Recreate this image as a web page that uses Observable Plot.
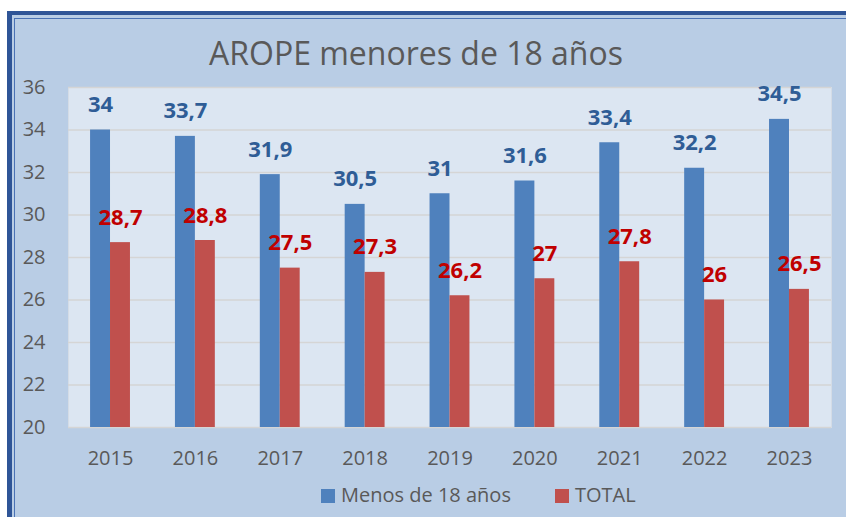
<!DOCTYPE html>
<html>
<head>
<meta charset="utf-8">
<script src="https://cdn.jsdelivr.net/npm/d3@7"></script>
<script src="https://cdn.jsdelivr.net/npm/@observablehq/plot@0.6"></script>
<style>
  html, body { margin: 0; padding: 0; background: #ffffff; }
  body { width: 846px; height: 517px; overflow: hidden; position: relative; font-family: "Open Sans", sans-serif; }
  #frame {
    position: absolute; left: 7px; top: 11px; width: 900px; height: 504px;
    background: #b9cde5;
    border-left: 5px solid #2f5597; border-top: 4px solid #2f5597;
    border-bottom: 1px solid #6d8fc9;
    box-shadow: inset 2px 3px 0 0 #b9cde5, inset 3px 4px 0 0 #4a72b5;
  }
  #title {
    position: absolute; left: 0; width: 832px; top: 37px; text-align: center;
    font-size: 32px; line-height: 32px; color: #595959;
  }
  #chart { position: absolute; left: 0; top: 0; }
  #legend {
    position: absolute; left: 321px; top: 485px; display: flex; gap: 44px;
    font-size: 20px; line-height: 20px; color: #595959;
  }
  #legend .item { display: flex; align-items: flex-start; }
  #legend .sw { width: 14px; height: 14px; margin-top: 4px; margin-right: 6px; }
</style>
</head>
<body>
<div id="frame"></div>
<div id="title"></div>
<div id="chart"></div>
<div id="legend"></div>
<script>
const title = "AROPE menores de 18 años";
const years = ["2015", "2016", "2017", "2018", "2019", "2020", "2021", "2022", "2023"];
const menores = [34, 33.7, 31.9, 30.5, 31, 31.6, 33.4, 32.2, 34.5];
const total = [28.7, 28.8, 27.5, 27.3, 26.2, 27, 27.8, 26, 26.5];
const seriesNames = ["Menos de 18 años", "TOTAL"];
const seriesColors = ["#4f81bd", "#c0504d"];
const labelColors = ["#2f5d96", "#c00000"];
const yTicks = [20, 22, 24, 26, 28, 30, 32, 34, 36];

document.getElementById("title").textContent = title;

const fmt = v => String(v).replace(".", ",");
const rowsA = years.map((y, i) => ({year: y, value: menores[i]}));
const rowsB = years.map((y, i) => ({year: y, value: total[i]}));

const W = 846, H = 480;
const mL = 68, mR = 15, mT = 87, mB = H - 427;
const pIn = 0.53, pOut = 0.26;
const step = (W - mL - mR) / (years.length - pIn + 2 * pOut);
const bw = step * (1 - pIn);
const half = bw / 2;

const chart = Plot.plot({
  width: W,
  height: H,
  marginLeft: mL, marginRight: mR, marginTop: mT, marginBottom: mB,
  style: {background: "transparent", fontFamily: "Open Sans, sans-serif", fontSize: "20px", color: "#595959"},
  x: {domain: years, paddingInner: pIn, paddingOuter: pOut, align: 0.5, round: false, tickSize: 0, tickPadding: 23, label: null},
  y: {domain: [20, 36], ticks: yTicks, tickSize: 0, tickPadding: 23, label: null},
  marks: [
    Plot.frame({fill: "#dce6f2", stroke: "#d4dce6"}),
    Plot.ruleY(yTicks, {stroke: "#d5d5d5", strokeWidth: 1.5}),
    Plot.barY(rowsA, {x: "year", y1: () => 20, y2: "value", fill: seriesColors[0], insetRight: half}),
    Plot.barY(rowsB, {x: "year", y1: () => 20, y2: "value", fill: seriesColors[1], insetLeft: half}),
    Plot.text(rowsA, {x: "year", y: "value", text: d => fmt(d.value), dx: -half / 2, dy: -18, lineAnchor: "bottom",
      fill: labelColors[0], fontWeight: "bold", fontSize: 22}),
    Plot.text(rowsB, {x: "year", y: "value", text: d => fmt(d.value), dx: half / 2, dy: -18, lineAnchor: "bottom",
      fill: labelColors[1], fontWeight: "bold", fontSize: 22})
  ]
});
document.getElementById("chart").appendChild(chart);

const legend = document.getElementById("legend");
seriesNames.forEach((name, i) => {
  const item = document.createElement("div");
  item.className = "item";
  const sw = document.createElement("span");
  sw.className = "sw";
  sw.style.background = seriesColors[i];
  const t = document.createElement("span");
  t.textContent = name;
  item.appendChild(sw);
  item.appendChild(t);
  legend.appendChild(item);
});
</script>
</body>
</html>
